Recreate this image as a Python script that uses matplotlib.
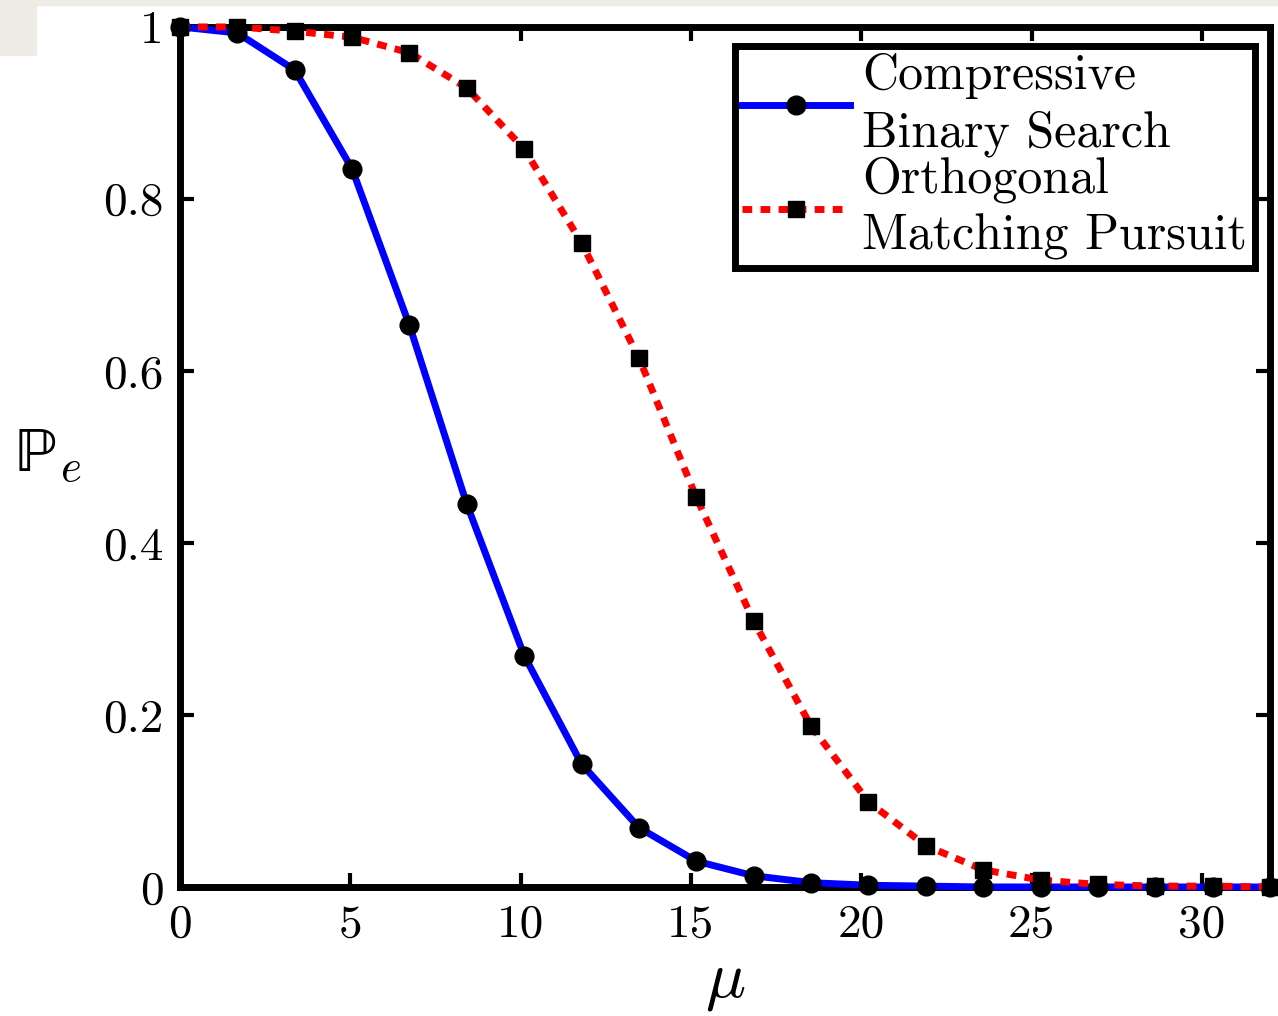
import numpy as np
import matplotlib
matplotlib.use("Agg")
import matplotlib.pyplot as plt
from matplotlib.patches import Rectangle

# Datele
mu = np.linspace(0, 32, 20)
pe_cbs = [1.0, 0.993, 0.95, 0.835, 0.653, 0.445, 0.269, 0.143, 0.069, 0.030,
          0.013, 0.005, 0.002, 0.001, 0.0, 0.0, 0.0, 0.0, 0.0, 0.0]
pe_omp = [1.0, 1.0, 0.995, 0.988, 0.970, 0.929, 0.858, 0.749, 0.615, 0.453,
          0.309, 0.187, 0.099, 0.048, 0.020, 0.008, 0.003, 0.001, 0.001, 0.0]
x_ticks = [0, 5, 10, 15, 20, 25, 30]
x_labels = ["0", "5", "10", "15", "20", "25", "30"]
y_ticks = [0, 0.2, 0.4, 0.6, 0.8, 1.0]
y_labels = ["0", "0.2", "0.4", "0.6", "0.8", "1"]
labels = ["Compressive\nBinary Search", "Orthogonal\nMatching Pursuit"]

plt.rcParams["font.family"] = ["cmr10", "DejaVu Serif"]
plt.rcParams["mathtext.fontset"] = "cm"
plt.rcParams["axes.formatter.use_mathtext"] = True

fig = plt.figure(figsize=(12.78, 10.16), dpi=100)
# fundalul deschis din colt (artefact al capturii)
fig.patches.append(Rectangle((0, 0.946), 0.028, 0.054, transform=fig.transFigure,
                             color="#efece6", zorder=-1))
fig.patches.append(Rectangle((0, 0.995), 1, 0.005, transform=fig.transFigure,
                             color="#efece6", zorder=-1))

ax = fig.add_axes([0.1408, 0.127, 0.853, 0.8465])

ax.plot(mu, pe_cbs, color="blue", linewidth=5, marker="o", markersize=13.5,
        markerfacecolor="black", markeredgecolor="black", clip_on=False,
        label=labels[0], zorder=3)
ax.plot(mu, pe_omp, color="red", linewidth=5, linestyle=(0, (1.4, 1.2)),
        marker="s", markersize=11.5, markerfacecolor="black",
        markeredgecolor="black", clip_on=False, label=labels[1], zorder=3)

ax.set_xlim(0, 32)
ax.set_ylim(0, 1)
ax.set_xticks(x_ticks)
ax.set_xticklabels(x_labels)
ax.set_yticks(y_ticks)
ax.set_yticklabels(y_labels)
ax.tick_params(direction="in", length=10, width=3, labelsize=34,
               top=True, right=True, pad=12)
for s in ax.spines.values():
    s.set_linewidth(5)

ax.set_xlabel(r"$\mu$", fontsize=48, labelpad=6)
ax.set_ylabel("ℙ$_e$", fontsize=46, rotation=0, labelpad=40, va="center",
              family=["STIXGeneral", "DejaVu Serif"])

leg = ax.legend(loc="upper right", bbox_to_anchor=(0.986, 0.978), fontsize=36,
                handlelength=2.15, handletextpad=0.25, labelspacing=0.0,
                borderpad=0.15, borderaxespad=0, fancybox=False, framealpha=1,
                edgecolor="black")
leg.get_frame().set_linewidth(5)
for t in leg.get_texts():
    t.set_linespacing(1.3)

fig.savefig("out.png", dpi=100)
